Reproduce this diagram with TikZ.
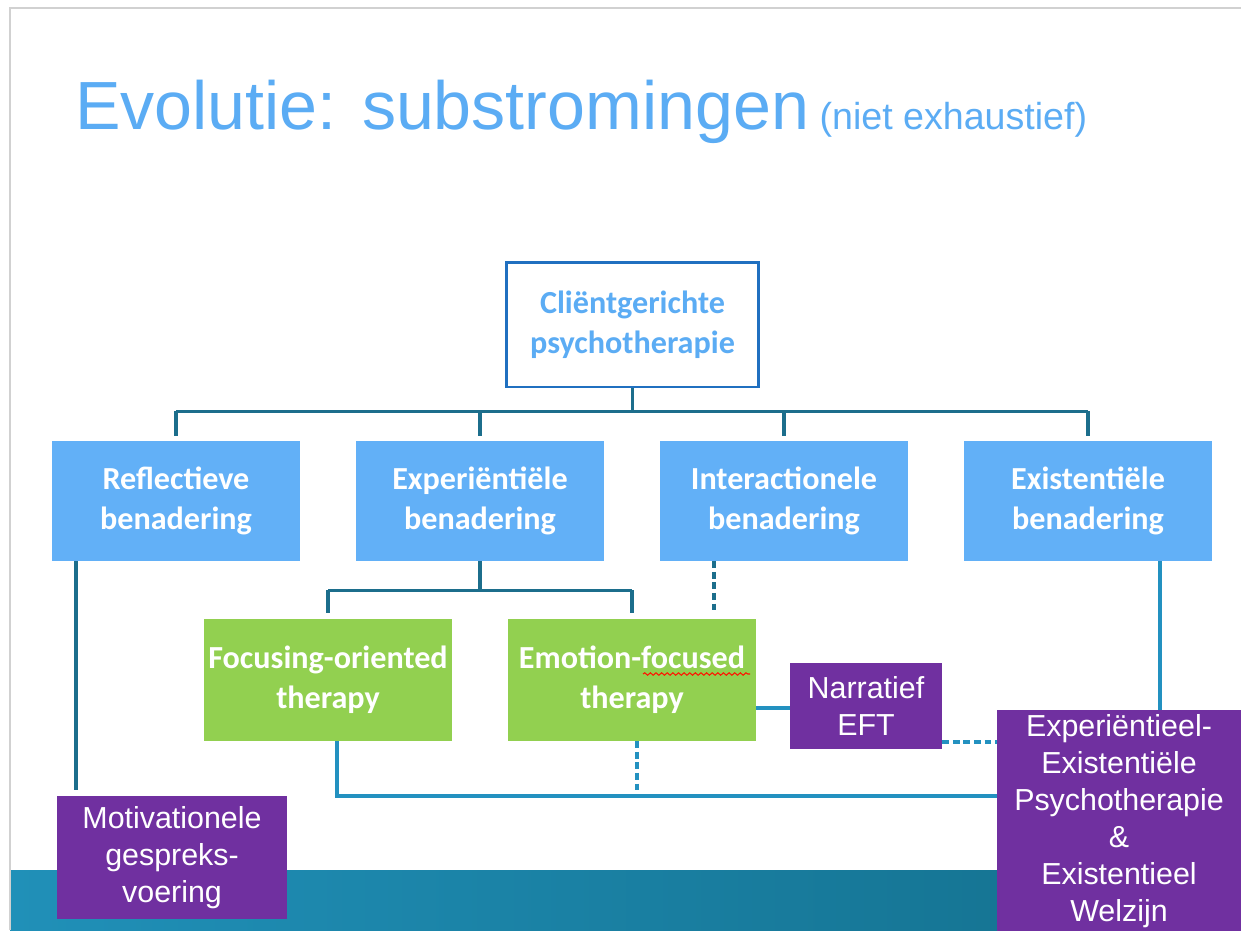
\documentclass[tikz,border=0pt]{standalone}
\usepackage{fontspec}
\setmainfont{Liberation Sans}
\newfontfamily\calfont{Carlito}
\usetikzlibrary{calc,decorations.pathmorphing}
\definecolor{titleblue}{HTML}{5BACF4}
\definecolor{rootborder}{HTML}{2070C0}
\definecolor{boxblue}{HTML}{62B0F7}
\definecolor{boxgreen}{HTML}{92D050}
\definecolor{boxpurple}{HTML}{7030A0}
\definecolor{conndark}{HTML}{1C6E8C}
\definecolor{connlight}{HTML}{2391C0}
\definecolor{bandleft}{HTML}{2090B8}
\definecolor{bandright}{HTML}{136F8C}
\begin{document}
\begin{tikzpicture}[x=0.02cm,y=-0.02cm,
  calbox/.style={inner sep=0pt, align=center, text=white,
    font=\calfont\bfseries\fontsize{18.3}{22.7}\selectfont},
  bluebox/.style={calbox, fill=boxblue, minimum width=4.96cm, minimum height=2.4cm},
  greenbox/.style={calbox, fill=boxgreen, minimum width=4.96cm, minimum height=2.44cm},
  purplebox/.style={inner sep=0pt, align=center, text=white, fill=boxpurple,
    font=\fontsize{17.3}{21}\selectfont},
  conn/.style={draw=conndark, line width=2.1pt},
  connb/.style={draw=connlight, line width=2.1pt},
  dashconn/.style={dash pattern=on 3.8pt off 2.2pt}
]
\useasboundingbox (0,0) rectangle (1241,930);
\fill[white] (0,0) rectangle (1241,930);
% slide frame and bottom band
\fill[left color=bandleft, right color=bandright] (10,870) rectangle (1241,930);
\draw[black!18, line width=1.2pt] (10,930) -- (10,8) -- (1241,8);
% title
\node[anchor=base west, inner sep=0pt, text=titleblue] (title) at (75,129)
  {\fontsize{38.8}{42}\selectfont Evolutie: substromingen{\fontsize{21.4}{24}\selectfont\ (niet exhaustief)}};
% root
\node[calbox, text=titleblue, fill=white, draw=rootborder, line width=1.7pt,
  minimum width=5.06cm, minimum height=2.5cm] (root) at (632.5,324.5)
  {Cliëntgerichte\\psychotherapie};
% level 1
\node[bluebox] (refl) at (176,501) {Reflectieve\\benadering};
\node[bluebox] (expe) at (480,501) {Experiëntiële\\benadering};
\node[bluebox] (inte) at (784,501) {Interactionele\\benadering};
\node[bluebox] (exis) at (1088,501) {Existentiële\\benadering};
% level 2
\node[greenbox] (foc) at (328,680) {Focusing-oriented\\therapy};
\node[greenbox] (emo) at (632,680) {Emotion-focused\\therapy};
% purple boxes
\node[purplebox, minimum width=4.6cm, minimum height=2.46cm] (motiv) at (172,857.5)
  {Motivationele\\gespreks-\\voering};
\node[purplebox, minimum width=3.04cm, minimum height=1.72cm] (narr) at (866,706)
  {Narratief\\EFT};
\node[purplebox, minimum width=4.88cm, minimum height=4.44cm] (eee) at (1119,821)
  {Experiëntieel-\\Existentiële\\Psychotherapie\\\&\\Existentieel\\Welzijn};
% spell-check squiggle
\draw[red!85!orange, line width=0.6pt, decorate,
  decoration={snake, amplitude=0.7pt, segment length=3.2pt}]
  ($(emo.center)+(11,-6)$) -- ($(emo.center)+(118,-6)$);
% helper coordinates
\coordinate (rx) at (76,0);
\coordinate (ix) at (714,0);
\coordinate (fx) at (337,0);
\coordinate (ex) at (637,0);
\coordinate (sx) at (1160,0);
\coordinate (bl) at (0,796);
\coordinate (ny) at (0,708);
\coordinate (dy) at (0,742);
% connectors from root
\draw[conn] (root.south) -- ++(0,23) coordinate (rj);
\draw[conn] (rj -| refl.north) -- (rj -| exis.north);
\foreach \n in {refl,expe,inte,exis}
  \draw[conn] (rj -| \n.north) -- ([yshift=0.1cm]\n.north);
% experiential children
\draw[conn] (expe.south) -- ++(0,29) coordinate (ej);
\draw[conn] (ej -| foc.north) -- (ej -| emo.north);
\draw[conn] (ej -| foc.north) -- ([yshift=0.12cm]foc.north);
\draw[conn] (ej -| emo.north) -- ([yshift=0.12cm]emo.north);
% interactional dashed
\draw[conn, dashconn] (inte.south -| ix) -- ([yshift=0.12cm]emo.north -| ix);
% reflective to motivational
\draw[conn] (refl.south -| rx) -- ([yshift=0.12cm]motiv.north -| rx);
% focusing bottom line
\draw[connb] (foc.south -| fx) -- (fx |- bl) -- (eee.west |- bl);
\draw[connb, dashconn] (emo.south -| ex) -- (ex |- bl);
% emotion to narrative
\draw[connb] (emo.east |- ny) -- (narr.west |- ny);
\draw[connb, dashconn] (narr.east |- dy) -- (eee.west |- dy);
% existential to EEE
\draw[connb] (exis.south -| sx) -- (eee.north -| sx);
\end{tikzpicture}
\end{document}
